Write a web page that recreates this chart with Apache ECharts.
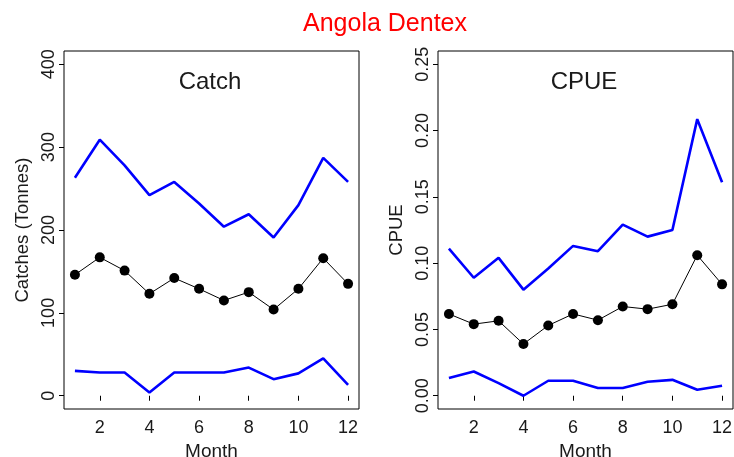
<!DOCTYPE html>
<html>
<head>
<meta charset="utf-8">
<script src="https://cdn.jsdelivr.net/npm/echarts@6/dist/echarts.min.js"></script>
<style>html,body{margin:0;padding:0;background:#fff}#c{width:734px;height:457px}</style>
</head>
<body>
<div id="c"></div>
<script>
var months = [1,2,3,4,5,6,7,8,9,10,11,12];
var catchMean  = [146,167,151,123,142,129,115,125,104,129,166,135];
var catchUpper = [263,309,278,242,258,232,204,219,191,230,287,258];
var catchLower = [30,28,28,4,28,28,28,34,20,27,45,13];
var cpueMean  = [0.0617,0.054,0.0565,0.039,0.053,0.0617,0.057,0.0673,0.0653,0.069,0.106,0.084];
var cpueUpper = [0.111,0.089,0.104,0.080,0.096,0.113,0.109,0.129,0.120,0.125,0.2086,0.161];
var cpueLower = [0.0133,0.0183,0.0095,0.0,0.0113,0.0113,0.0058,0.0058,0.0105,0.012,0.0045,0.0075];
var xTicks = [2,4,6,8,10,12];
var catchTicks = [0,100,200,300,400];
var cpueTicks = [0,0.05,0.10,0.15,0.20,0.25];

function pairs(v){ return months.map(function(m,i){ return [m, v[i]]; }); }
var FF = '"Liberation Sans", Arial, sans-serif';
var TXT = '#1a1a1a';

function xAxis(gi){
  return {
    gridIndex: gi, type: 'value', min: 0.56, max: 12.44,
    axisLine: {show: false},
    splitLine: {show: false},
    axisTick: {show: true, inside: false, length: 5, customValues: xTicks, lineStyle: {color: '#000'}},
    axisLabel: {customValues: xTicks, margin: 10, fontSize: 18, color: TXT, fontFamily: FF},
    name: 'Month', nameLocation: 'middle', nameGap: 29,
    nameTextStyle: {fontSize: 19, color: TXT, fontFamily: FF}
  };
}
function yAxis(gi, mn, mx, ticks, name, fmt){
  return {
    gridIndex: gi, type: 'value', min: mn, max: mx,
    axisLine: {show: false},
    splitLine: {show: false},
    axisTick: {show: true, inside: false, length: 5, customValues: ticks, lineStyle: {color: '#000'}},
    axisLabel: {customValues: ticks, rotate: 90, margin: 6, fontSize: 18, color: TXT, fontFamily: FF, formatter: fmt},
    name: name, nameLocation: 'middle', nameGap: 32, nameRotate: 90,
    nameTextStyle: {fontSize: 18.5, color: TXT, fontFamily: FF}
  };
}
function bandLine(xi, data){
  return {type: 'line', xAxisIndex: xi, yAxisIndex: xi, data: pairs(data), symbol: 'none',
    lineStyle: {color: '#0000ff', width: 2.6}, itemStyle: {color: '#0000ff'}, animation: false, z: 2};
}
function meanLine(xi, data){
  return {type: 'line', xAxisIndex: xi, yAxisIndex: xi, data: pairs(data), symbol: 'circle', symbolSize: 10,
    lineStyle: {color: '#000', width: 1}, itemStyle: {color: '#000'}, animation: false, z: 3};
}

var chart = echarts.init(document.getElementById('c'));
chart.setOption({
  backgroundColor: '#fff',
  animation: false,
  title: [
    {text: 'Angola Dentex', left: 380, top: 7, textAlign: 'center',
     textStyle: {color: '#ff0000', fontSize: 25, fontWeight: 'normal', fontFamily: FF}},
    {text: 'Catch', left: 205, top: 65, textAlign: 'center',
     textStyle: {color: TXT, fontSize: 24, fontWeight: 'normal', fontFamily: FF}},
    {text: 'CPUE', left: 579, top: 65, textAlign: 'center',
     textStyle: {color: TXT, fontSize: 24, fontWeight: 'normal', fontFamily: FF}}
  ],
  grid: [
    {left: 64, top: 51, width: 295, height: 358, show: true, borderColor: '#000', borderWidth: 1, backgroundColor: 'transparent', outerBoundsMode: 'none', containLabel: false},
    {left: 438, top: 51, width: 295, height: 358, show: true, borderColor: '#000', borderWidth: 1, backgroundColor: 'transparent', outerBoundsMode: 'none', containLabel: false}
  ],
  xAxis: [xAxis(0), xAxis(1)],
  yAxis: [
    yAxis(0, -16, 416, catchTicks, 'Catches (Tonnes)', function(v){ return String(v); }),
    yAxis(1, -0.01, 0.26, cpueTicks, 'CPUE', function(v){ return v.toFixed(2); })
  ],
  series: [
    bandLine(0, catchUpper), bandLine(0, catchLower), meanLine(0, catchMean),
    bandLine(1, cpueUpper), bandLine(1, cpueLower), meanLine(1, cpueMean)
  ]
});
</script>
</body>
</html>
